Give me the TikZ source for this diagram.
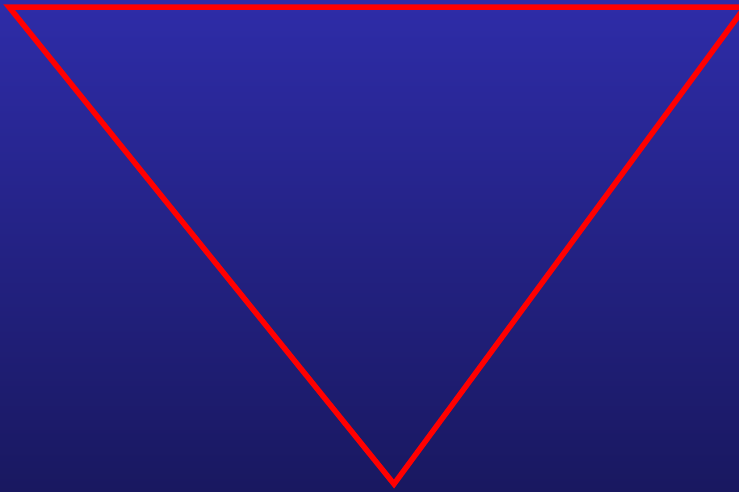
\documentclass[tikz,border=0pt]{standalone}
\usepackage{tikz}

\definecolor{skytop}{RGB}{46,44,168}
\definecolor{skybottom}{RGB}{25,24,96}
\definecolor{edgered}{RGB}{255,0,0}

\tikzset{
  edge/.style={draw=edgered, line width=5.5pt, line join=miter}
}

\begin{document}
\begin{tikzpicture}[x=1pt, y=-1pt]
\useasboundingbox (0,0) rectangle (739,491);
\clip (0,0) rectangle (739,491);
\shade [top color=skytop, bottom color=skybottom] (0,0) rectangle (739,491);

\coordinate (topleft)  at (9,7);
\coordinate (topright) at (745,7);
\coordinate (apex)     at (394,484);

\draw [edge] (topleft) -- (topright) -- (apex) -- cycle;
\end{tikzpicture}
\end{document}
